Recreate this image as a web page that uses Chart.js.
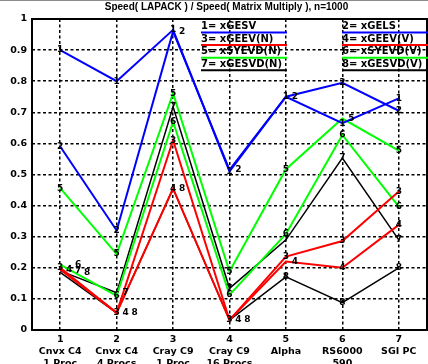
<!DOCTYPE html>
<html>
<head>
<meta charset="utf-8">
<script src="https://cdn.jsdelivr.net/npm/chart.js@4/dist/chart.umd.min.js"></script>
<style>
    html, body { margin: 0; padding: 0; background: #fff; overflow: hidden; }
    canvas { display: block; }
</style>
</head>
<body>
<canvas id="chart" width="428" height="364"></canvas>
<script>
// machines along the x axis
let machineIds = [1, 2, 3, 4, 5, 6, 7]
let machineNames = ['Cnvx C4', 'Cnvx C4', 'Cray C9', 'Cray C9', 'Alpha', 'RS6000', 'SGI PC']
let machineProcs = ['1 Proc', '4 Procs', '1 Proc', '16 Procs', '', '590', '']
let yTicks = [0, 0.1, 0.2, 0.3, 0.4, 0.5, 0.6, 0.7, 0.8, 0.9, 1]

// routines (legend order)
let seriesNames = ['xGESV', 'xGELS', 'xGEEV(N)', 'xGEEV(V)', 'xSYEVD(N)', 'xSYEVD(V)', 'xGESVD(N)', 'xGESVD(V)']
let seriesColours = ['#0000ff', '#0000ff', '#ff0000', '#ff0000', '#00ff00', '#00ff00', '#000000', '#000000']

// speed(LAPACK) / speed(matrix multiply), per machine
let gesv   = [0.90, 0.80, 0.965, 0.51, 0.75, 0.665, 0.745]
let gels   = [0.59, 0.32, 0.96, 0.515, 0.75, 0.795, 0.705]
let geevN  = [0.20, 0.055, 0.61, 0.032, 0.236, 0.286, 0.445]
let geevV  = [0.195, 0.055, 0.455, 0.032, 0.22, 0.20, 0.338]
let syevdN = [0.456, 0.244, 0.761, 0.188, 0.517, 0.68, 0.577]
let syevdV = [0.21, 0.11, 0.67, 0.113, 0.309, 0.627, 0.397]
let gesvdN = [0.19, 0.12, 0.718, 0.134, 0.29, 0.553, 0.29]
let gesvdV = [0.185, 0.055, 0.455, 0.032, 0.171, 0.088, 0.2]

let allSeries = [gesv, gels, geevN, geevV, syevdN, syevdV, gesvdN, gesvdV]

let tickFont = { family: 'DejaVu Sans', weight: 'bold', size: 9.5, lineHeight: 1.25 }

// title, frame, point numbers and legend
let decorations = {
    id: 'decorations',
    afterDatasetsDraw(chart) {
        let ctx = chart.ctx
        let area = chart.chartArea

        ctx.save()
        ctx.fillStyle = '#8c8c8c'
        ctx.fillRect(0, 0, chart.width, 1)

        ctx.strokeStyle = '#000'
        ctx.lineWidth = 2
        ctx.strokeRect(area.left, area.top, area.right - area.left, area.bottom - area.top)

        ctx.fillStyle = '#000'
        ctx.font = 'bold 10px "Liberation Sans"'
        ctx.textAlign = 'center'
        ctx.textBaseline = 'middle'
        ctx.fillText('Speed( LAPACK ) / Speed( Matrix Multiply ), n=1000', (area.left + area.right) / 2 - 3, 7)

        // series number at every point, spread out when they overlap
        ctx.font = 'bold 9px "DejaVu Sans"'
        for (let j = 0; j < machineIds.length; j++) {
            let placed = []
            allSeries.forEach((s, i) => {
                let pt = chart.getDatasetMeta(i).data[j]
                let same = placed.filter(p => Math.abs(p.y - pt.y) < 5)
                let dx = same.length * 9
                placed.push({ y: pt.y })
                ctx.fillText(String(i + 1), pt.x + dx, pt.y)
            })
        }

        // legend, two columns, line sample under each entry
        ctx.textAlign = 'left'
        ctx.font = 'bold 10px "DejaVu Sans"'
        seriesNames.forEach((name, k) => {
            let col = k % 2
            let row = Math.floor(k / 2)
            let x0 = col ? 342 : 201
            let ty = 26.5 + row * 12.5
            let ly = 32.5 + row * 12.6
            ctx.fillStyle = '#000'
            ctx.fillText(`${k + 1}= ${name}`, x0, ty)
            ctx.strokeStyle = seriesColours[k]
            ctx.lineWidth = 2
            ctx.beginPath()
            ctx.moveTo(x0, ly)
            ctx.lineTo(x0 + 86, ly)
            ctx.stroke()
        })
        ctx.restore()
    }
}

let datasets = allSeries.map((s, i) => ({
    label: seriesNames[i],
    data: s.map((v, j) => ({ x: machineIds[j], y: v })),
    borderColor: seriesColours[i],
    backgroundColor: seriesColours[i],
    borderWidth: seriesColours[i] == '#000000' ? 1.5 : 2,
    pointRadius: 0,
    tension: 0,
    fill: false
}))

new Chart(document.getElementById('chart'), {
    type: 'line',
    data: { datasets: datasets },
    options: {
        responsive: false,
        animation: false,
        layout: { padding: { top: 19, right: 1, left: 0, bottom: 0 } },
        plugins: {
            legend: { display: false },
            title: { display: false },
            tooltip: { enabled: false }
        },
        scales: {
            x: {
                type: 'linear',
                min: 0.5,
                max: 7.5,
                afterBuildTicks: s => { s.ticks = machineIds.map(v => ({ value: v })) },
                afterFit: s => { s.height = 34 },
                ticks: {
                    callback: v => [String(v), machineNames[v - 1], machineProcs[v - 1]],
                    font: tickFont,
                    color: '#000',
                    padding: 4,
                    maxRotation: 0,
                    autoSkip: false
                },
                grid: { color: '#000', lineWidth: 1.5, drawTicks: false },
                border: { display: false, dash: [3, 2.5] }
            },
            y: {
                min: 0,
                max: 1,
                afterBuildTicks: s => { s.ticks = yTicks.map(v => ({ value: v })) },
                afterFit: s => { s.width = 32 },
                ticks: {
                    callback: v => v == 0 ? '0' : v == 1 ? '1' : v.toFixed(1),
                    font: tickFont,
                    color: '#000',
                    padding: 5
                },
                grid: { color: '#000', lineWidth: 1.5, drawTicks: false },
                border: { display: false, dash: [3, 2.5] }
            }
        }
    },
    plugins: [decorations]
})
</script>
</body>
</html>
